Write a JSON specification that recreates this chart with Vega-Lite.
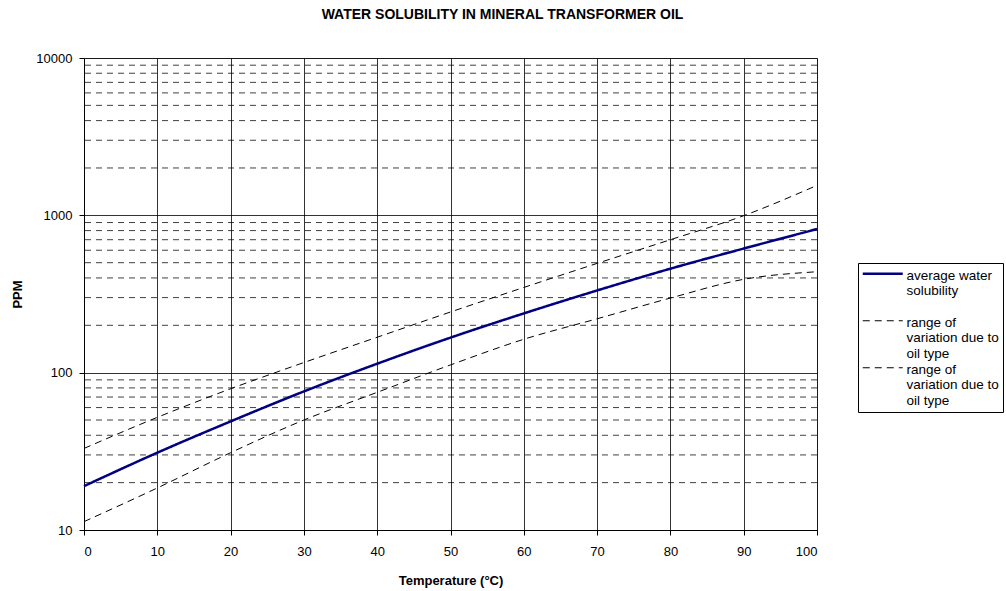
{
  "$schema": "https://vega.github.io/schema/vega-lite/v6.json",
  "width": 733,
  "height": 472,
  "autosize": {"type": "none"},
  "padding": {"left": 84, "top": 58, "right": 189, "bottom": 61},
  "background": "white",
  "title": {
    "text": "WATER SOLUBILITY IN MINERAL TRANSFORMER OIL",
    "font": "Liberation Sans",
    "fontSize": 14,
    "fontWeight": "bold",
    "color": "black",
    "anchor": "middle",
    "dx": 52,
    "offset": 30
  },
  "config": {
    "view": {"stroke": "#808080", "strokeWidth": 1},
    "axis": {"labelFont": "Liberation Sans", "titleFont": "Liberation Sans"}
  },
  "datasets": {
    "curves": [
      {"series": "avg", "t": 0, "ppm": 19},
      {"series": "avg", "t": 10, "ppm": 31},
      {"series": "avg", "t": 20, "ppm": 49},
      {"series": "avg", "t": 30, "ppm": 76},
      {"series": "avg", "t": 40, "ppm": 114},
      {"series": "avg", "t": 50, "ppm": 167},
      {"series": "avg", "t": 60, "ppm": 238},
      {"series": "avg", "t": 70, "ppm": 333},
      {"series": "avg", "t": 80, "ppm": 458},
      {"series": "avg", "t": 90, "ppm": 615},
      {"series": "avg", "t": 100, "ppm": 818},
      {"series": "upper", "t": 0, "ppm": 33},
      {"series": "upper", "t": 10, "ppm": 52},
      {"series": "upper", "t": 20, "ppm": 79},
      {"series": "upper", "t": 30, "ppm": 116},
      {"series": "upper", "t": 40, "ppm": 168},
      {"series": "upper", "t": 50, "ppm": 243},
      {"series": "upper", "t": 60, "ppm": 348},
      {"series": "upper", "t": 70, "ppm": 495},
      {"series": "upper", "t": 80, "ppm": 700},
      {"series": "upper", "t": 90, "ppm": 995},
      {"series": "upper", "t": 100, "ppm": 1550},
      {"series": "lower", "t": 0, "ppm": 11.3},
      {"series": "lower", "t": 10, "ppm": 18.5},
      {"series": "lower", "t": 20, "ppm": 31},
      {"series": "lower", "t": 30, "ppm": 50},
      {"series": "lower", "t": 40, "ppm": 75},
      {"series": "lower", "t": 50, "ppm": 112},
      {"series": "lower", "t": 60, "ppm": 163},
      {"series": "lower", "t": 70, "ppm": 220},
      {"series": "lower", "t": 80, "ppm": 298},
      {"series": "lower", "t": 90, "ppm": 392},
      {"series": "lower", "t": 100, "ppm": 438}
    ],
    "minor": [
      {"v": 20}, {"v": 30}, {"v": 40}, {"v": 50}, {"v": 60}, {"v": 70}, {"v": 80}, {"v": 90},
      {"v": 200}, {"v": 300}, {"v": 400}, {"v": 500}, {"v": 600}, {"v": 700}, {"v": 800}, {"v": 900},
      {"v": 2000}, {"v": 3000}, {"v": 4000}, {"v": 5000}, {"v": 6000}, {"v": 7000}, {"v": 8000}, {"v": 9000}
    ]
  },
  "layer": [
    {
      "data": {"name": "minor"},
      "mark": {"type": "rule", "stroke": "#000000", "strokeWidth": 1, "strokeDash": [6, 5], "opacity": 0.75},
      "encoding": {
        "y": {"field": "v", "type": "quantitative", "scale": {"type": "log", "domain": [10, 10000]}}
      }
    },
    {
      "data": {"name": "curves"},
      "mark": {"type": "line", "interpolate": "monotone"},
      "encoding": {
        "x": {
          "field": "t",
          "type": "quantitative",
          "scale": {"domain": [0, 100], "nice": false},
          "axis": {
            "values": [0, 10, 20, 30, 40, 50, 60, 70, 80, 90, 100],
            "title": "Temperature (°C)",
            "titleFontSize": 13,
            "titleFontWeight": "bold",
            "titleColor": "black",
            "titlePadding": 16,
            "labelFontSize": 13,
            "labelColor": "black",
            "labelPadding": 10,
            "tickSize": 5,
            "tickColor": "black",
            "domainColor": "black",
            "grid": true,
            "gridColor": "#000000",
            "gridOpacity": 0.8,
            "gridWidth": 1
          }
        },
        "y": {
          "field": "ppm",
          "type": "quantitative",
          "scale": {"type": "log", "domain": [10, 10000]},
          "axis": {
            "values": [10, 100, 1000, 10000],
            "format": "d",
            "title": "PPM",
            "titleFontSize": 13,
            "titleFontWeight": "bold",
            "titleColor": "black",
            "titlePadding": 11,
            "labelFontSize": 13,
            "labelColor": "black",
            "labelPadding": 7,
            "tickSize": 5,
            "tickColor": "black",
            "domainColor": "black",
            "grid": true,
            "gridColor": "#000000",
            "gridOpacity": 0.8,
            "gridWidth": 1
          }
        },
        "detail": {"field": "series"},
        "color": {
          "field": "series",
          "type": "nominal",
          "scale": {"domain": ["avg", "upper", "lower"], "range": ["#000080", "#000000", "#000000"]},
          "legend": {
            "orient": "none",
            "legendX": 774,
            "legendY": 205,
            "title": null,
            "symbolType": "M-4,0H4",
            "symbolSize": 100,
            "symbolOffset": 14,
            "symbolStrokeWidth": 2,
            "labelFont": "Liberation Sans",
            "labelFontSize": 13.5,
            "labelColor": "black",
            "labelLimit": 200,
            "labelBaseline": "top",
            "labelOffset": 17,
            "labelExpr": "datum.value == 'avg' ? ['average water', 'solubility', ''] : ['range of', 'variation due to', 'oil type']",
            "strokeColor": "black",
            "padding": 4,
            "rowPadding": 0,
            "fillColor": "white",
            "encode": {
              "labels": {"update": {"dy": {"value": -5}}},
              "symbols": {"update": {"strokeWidth": {"signal": "datum.value == 'avg' ? 2.5 : 2"}, "fill": {"value": "transparent"}}}
            }
          }
        },
        "strokeDash": {
          "field": "series",
          "type": "nominal",
          "scale": {"type": "ordinal", "domain": ["avg", "upper", "lower"], "range": [[1, 0], [7, 5], [7, 5]]},
          "legend": null
        },
        "strokeWidth": {
          "field": "series",
          "type": "nominal",
          "scale": {"type": "ordinal", "domain": ["avg", "upper", "lower"], "range": [2.5, 1, 1]},
          "legend": null
        }
      }
    }
  ]
}
